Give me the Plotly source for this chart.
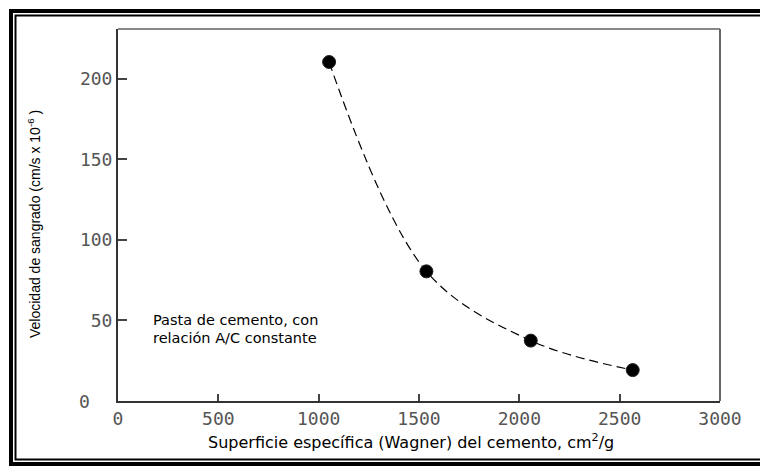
import plotly.graph_objects as go

superficie = [1052, 1537, 2057, 2565]
velocidad = [210.5, 80.5, 37.5, 19.2]
x_ticks = [0, 500, 1000, 1500, 2000, 2500, 3000]
y_ticks = [50, 100, 150, 200]

W, H = 760, 466
L, R, T, B = 118, 40, 29, 65
PW, PH = W - L - R, H - T - B

def px(x):
    return (x - L) / PW

def py(y):
    return (H - B - y) / PH

fig = go.Figure()
fig.add_trace(go.Scatter(
    x=superficie, y=velocidad, mode="lines",
    line=dict(color="black", width=1.2, dash="9px,5px", shape="spline", smoothing=1.0),
    hoverinfo="skip", showlegend=False))
fig.add_trace(go.Scatter(
    x=superficie, y=velocidad, mode="markers",
    marker=dict(color="black", size=13, line=dict(color="#222", width=1)),
    showlegend=False))

tickfont = dict(family="DejaVu Sans Mono", size=18, color="#555")
fig.update_xaxes(
    range=[0, 3000], tickvals=x_ticks, ticktext=[str(v) for v in x_ticks],
    ticks="inside", ticklen=7, tickwidth=2, tickcolor="#444",
    showline=True, linecolor="#333", linewidth=2, showgrid=False, zeroline=False,
    tickfont=tickfont, ticklabelstandoff=0)
fig.update_yaxes(
    range=[0, 231], tickvals=y_ticks, ticktext=[str(v) for v in y_ticks],
    ticks="inside", ticklen=9, tickwidth=2, tickcolor="#444",
    showline=True, linecolor="#333", linewidth=2, showgrid=False, zeroline=False,
    tickfont=tickfont, ticklabelstandoff=0)

shapes = [
    dict(type="line", xref="paper", yref="paper", x0=0, x1=1, y0=1, y1=1,
         line=dict(color="#888", width=2)),
    dict(type="line", xref="paper", yref="paper", x0=1, x1=1, y0=0, y1=1,
         line=dict(color="#666", width=2)),
    dict(type="rect", xref="paper", yref="paper", x0=px(11), x1=px(820), y0=py(11), y1=py(464),
         line=dict(color="black", width=4), fillcolor="rgba(0,0,0,0)", layer="below"),
    dict(type="rect", xref="paper", yref="paper", x0=px(15.5), x1=px(820), y0=py(15.5), y1=py(459.5),
         line=dict(color="black", width=2), fillcolor="rgba(0,0,0,0)", layer="below"),
]

textfont = dict(family="DejaVu Sans", size=14.5, color="black")
annotations = [
    dict(x=px(84), y=py(401), xref="paper", yref="paper", text="0", showarrow=False,
         font=tickfont, xanchor="center", yanchor="middle"),
    dict(x=px(411), y=py(442), xref="paper", yref="paper",
         text="Superficie específica (Wagner) del cemento, cm<sup>2</sup>/g",
         showarrow=False, font=dict(family="DejaVu Sans", size=16, color="black"),
         xanchor="center", yanchor="middle"),
    dict(x=px(34), y=py(224), xref="paper", yref="paper", textangle=-90,
         text="Velocidad de sangrado (cm/s x 10<sup>-6</sup> )",
         showarrow=False, font=dict(family="Liberation Sans", size=14, color="black"),
         xanchor="center", yanchor="middle"),
    dict(x=px(151), y=py(320), xref="paper", yref="paper", align="left",
         text="Pasta de cemento, con",
         showarrow=False, font=textfont, xanchor="left", yanchor="middle"),
    dict(x=px(151), y=py(338), xref="paper", yref="paper", align="left",
         text="relación A/C constante",
         showarrow=False, font=textfont, xanchor="left", yanchor="middle"),
]

fig.update_layout(
    width=W, height=H, margin=dict(l=L, r=R, t=T, b=B),
    plot_bgcolor="white", paper_bgcolor="white",
    shapes=shapes, annotations=annotations, showlegend=False)

fig.write_html("out.html", config={"displayModeBar": False},
               post_script="document.body.style.margin='0';document.body.style.overflow='hidden';")
